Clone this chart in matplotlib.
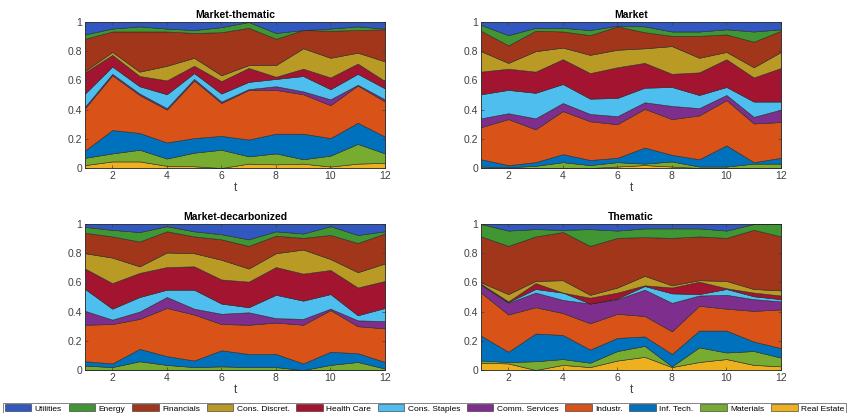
import numpy as np
import matplotlib
matplotlib.use('Agg')
import matplotlib.pyplot as plt
from matplotlib.patches import Patch

plt.rcParams['font.family'] = ['Liberation Sans', 'DejaVu Sans']

t = np.arange(1, 13)

# sectors, bottom of the stack first
sectors = ['Real Estate', 'Materials', 'Inf. Tech.', 'Industr.', 'Comm. Services',
           'Cons. Staples', 'Health Care', 'Cons. Discret.', 'Financials', 'Energy', 'Utilities']
colors = ['#EDB120', '#77AC30', '#0072BD', '#D95319', '#7E2F8E',
          '#4DBEEE', '#A2142F', '#B89A24', '#A2361A', '#3F9632', '#3157C0']

# cumulative share at the top of each sector (rows follow `sectors`, last row = 1)
market_thematic = [
    [0.02, 0.045, 0.045, 0.015, 0.012, 0.0, 0.03, 0.025, 0.03, 0.01, 0.03, 0.035],
    [0.07, 0.10, 0.125, 0.065, 0.105, 0.125, 0.08, 0.10, 0.06, 0.085, 0.165, 0.10],
    [0.12, 0.26, 0.24, 0.175, 0.205, 0.22, 0.195, 0.235, 0.235, 0.205, 0.31, 0.215],
    [0.41, 0.635, 0.50, 0.40, 0.60, 0.445, 0.535, 0.535, 0.505, 0.43, 0.565, 0.455],
    [0.42, 0.645, 0.51, 0.41, 0.61, 0.455, 0.54, 0.56, 0.525, 0.47, 0.57, 0.47],
    [0.51, 0.695, 0.56, 0.505, 0.65, 0.51, 0.59, 0.61, 0.63, 0.54, 0.645, 0.545],
    [0.655, 0.775, 0.63, 0.60, 0.70, 0.595, 0.685, 0.625, 0.68, 0.62, 0.715, 0.595],
    [0.665, 0.795, 0.66, 0.70, 0.755, 0.635, 0.705, 0.705, 0.82, 0.755, 0.79, 0.73],
    [0.885, 0.935, 0.935, 0.935, 0.925, 0.93, 0.96, 0.885, 0.945, 0.94, 0.945, 0.95],
    [0.915, 0.955, 0.97, 0.955, 0.945, 0.965, 1.0, 0.925, 0.945, 0.955, 0.97, 0.955],
    [1.0] * 12,
]
market = [
    [0.0, 0.0, 0.0, 0.0, 0.0, 0.01, 0.02, 0.01, 0.0, 0.0, 0.0, 0.0],
    [0.01, 0.005, 0.015, 0.04, 0.02, 0.04, 0.03, 0.045, 0.01, 0.01, 0.03, 0.03],
    [0.06, 0.02, 0.04, 0.095, 0.055, 0.07, 0.14, 0.09, 0.06, 0.155, 0.04, 0.07],
    [0.28, 0.335, 0.265, 0.39, 0.32, 0.30, 0.405, 0.335, 0.36, 0.465, 0.305, 0.315],
    [0.34, 0.375, 0.34, 0.445, 0.37, 0.355, 0.45, 0.425, 0.41, 0.50, 0.35, 0.40],
    [0.505, 0.535, 0.515, 0.575, 0.475, 0.48, 0.55, 0.555, 0.50, 0.555, 0.455, 0.455],
    [0.66, 0.68, 0.66, 0.745, 0.65, 0.69, 0.72, 0.645, 0.655, 0.745, 0.62, 0.685],
    [0.80, 0.72, 0.80, 0.825, 0.775, 0.81, 0.82, 0.835, 0.755, 0.795, 0.69, 0.795],
    [0.94, 0.84, 0.94, 0.935, 0.91, 0.97, 0.93, 0.905, 0.905, 0.915, 0.865, 0.94],
    [0.98, 0.91, 0.96, 0.96, 0.945, 0.975, 0.97, 0.935, 0.935, 0.95, 0.935, 0.95],
    [1.0] * 12,
]
market_decarb = [
    [0.0] * 12,
    [0.03, 0.02, 0.06, 0.035, 0.02, 0.025, 0.02, 0.02, 0.0, 0.035, 0.055, 0.01],
    [0.06, 0.045, 0.145, 0.095, 0.065, 0.135, 0.11, 0.11, 0.045, 0.125, 0.115, 0.055],
    [0.31, 0.315, 0.35, 0.425, 0.38, 0.315, 0.31, 0.325, 0.31, 0.41, 0.30, 0.285],
    [0.405, 0.345, 0.40, 0.50, 0.42, 0.385, 0.395, 0.355, 0.35, 0.42, 0.34, 0.335],
    [0.555, 0.42, 0.50, 0.55, 0.55, 0.455, 0.43, 0.515, 0.475, 0.52, 0.375, 0.425],
    [0.695, 0.595, 0.665, 0.705, 0.71, 0.62, 0.605, 0.705, 0.66, 0.685, 0.565, 0.61],
    [0.80, 0.77, 0.71, 0.805, 0.80, 0.755, 0.695, 0.80, 0.825, 0.76, 0.67, 0.73],
    [0.94, 0.915, 0.88, 0.95, 0.915, 0.895, 0.85, 0.92, 0.905, 0.925, 0.87, 0.935],
    [0.98, 0.96, 0.945, 0.985, 0.95, 0.93, 0.895, 0.95, 0.935, 0.985, 0.925, 0.95],
    [1.0] * 12,
]
thematic = [
    [0.05, 0.045, 0.0, 0.035, 0.02, 0.065, 0.09, 0.02, 0.055, 0.075, 0.035, 0.025],
    [0.065, 0.055, 0.06, 0.075, 0.05, 0.13, 0.165, 0.025, 0.155, 0.12, 0.13, 0.085],
    [0.235, 0.125, 0.25, 0.24, 0.14, 0.22, 0.23, 0.11, 0.27, 0.27, 0.195, 0.15],
    [0.53, 0.38, 0.43, 0.39, 0.32, 0.385, 0.37, 0.265, 0.44, 0.42, 0.405, 0.415],
    [0.585, 0.46, 0.53, 0.48, 0.455, 0.485, 0.55, 0.46, 0.51, 0.515, 0.485, 0.47],
    [0.585, 0.465, 0.555, 0.53, 0.455, 0.49, 0.575, 0.525, 0.52, 0.555, 0.505, 0.485],
    [0.59, 0.47, 0.595, 0.53, 0.495, 0.53, 0.58, 0.565, 0.605, 0.56, 0.53, 0.51],
    [0.60, 0.52, 0.61, 0.615, 0.515, 0.565, 0.645, 0.58, 0.615, 0.61, 0.555, 0.545],
    [0.915, 0.85, 0.915, 0.945, 0.85, 0.905, 0.91, 0.905, 0.915, 0.905, 0.96, 0.915],
    [1.0, 0.955, 0.965, 0.96, 0.965, 0.955, 0.97, 0.97, 0.97, 0.955, 1.0, 1.0],
    [1.0] * 12,
]

panels = [('Market-thematic', market_thematic), ('Market', market),
          ('Market-decarbonized', market_decarb), ('Thematic', thematic)]

W, H = 849, 413
fig = plt.figure(figsize=(W / 100, H / 100), dpi=100)

# axes boxes in pixels: left, top
boxes = [(85, 22), (481, 22), (85, 224), (481, 224)]
aw, ah = 300, 146

for (title, cum), (lx, ty) in zip(panels, boxes):
    ax = fig.add_axes([lx / W, (H - ty - ah) / H, aw / W, ah / H])
    cum = np.array(cum)
    weights = np.diff(np.vstack([np.zeros(12), cum]), axis=0)
    ax.stackplot(t, weights, colors=colors, edgecolor='#2b2b2b', linewidth=0.4)
    ax.set_xlim(1, 12)
    ax.set_ylim(0, 1)
    ax.set_xticks([2, 4, 6, 8, 10, 12])
    ax.set_yticks([0, 0.2, 0.4, 0.6, 0.8, 1])
    ax.set_yticklabels(['0', '0.2', '0.4', '0.6', '0.8', '1'])
    ax.tick_params(direction='in', length=2.5, width=0.5, labelsize=7.5,
                   colors='#404040', top=True, right=True, pad=2)
    for s in ax.spines.values():
        s.set_linewidth(0.5)
        s.set_color('#262626')
    ax.set_title(title, fontsize=7.5, fontweight='bold', pad=3)
    ax.set_xlabel('t', fontsize=8.5, labelpad=1, color='#404040')

handles = [Patch(facecolor=c, edgecolor='#2b2b2b', linewidth=0.4) for c in colors][::-1]
leg = fig.legend(handles, sectors[::-1], loc='lower center', bbox_to_anchor=(0.5, -0.005),
                 ncol=11, fontsize=6, frameon=True, fancybox=False, edgecolor='#262626',
                 handlelength=3.2, handleheight=0.9, handletextpad=0.4, columnspacing=0.8,
                 borderpad=0.2, borderaxespad=0.1)
leg.get_frame().set_linewidth(0.5)

fig.savefig('out.png', dpi=100)
